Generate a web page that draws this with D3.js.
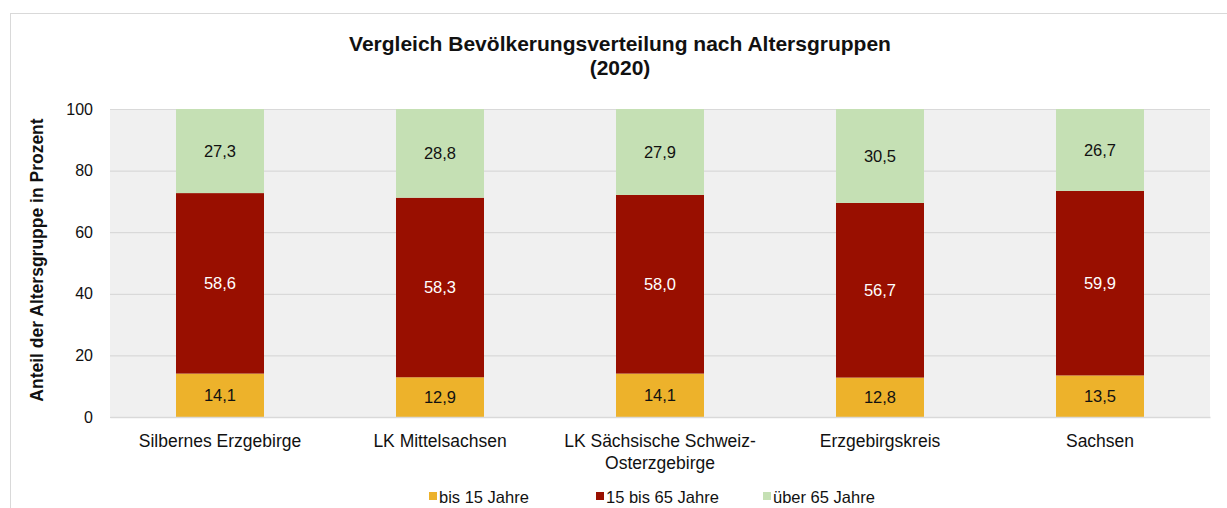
<!DOCTYPE html>
<html>
<head>
<meta charset="utf-8">
<script src="https://d3js.org/d3.v7.min.js"></script>
<style>
  body { margin: 0; background: #fff; }
  svg text { font-family: "Liberation Sans", Arial, sans-serif; }
</style>
</head>
<body>
<svg id="chart" width="1227" height="508"></svg>
<script>
// data
const regions = ["Silbernes Erzgebirge", "LK Mittelsachsen", "LK Sächsische Schweiz-Osterzgebirge", "Erzgebirgskreis", "Sachsen"];
const under15 = [14.1, 12.9, 14.1, 12.8, 13.5];
const age15to65 = [58.6, 58.3, 58.0, 56.7, 59.9];
const over65 = [27.3, 28.8, 27.9, 30.5, 26.7];
const seriesNames = ["bis 15 Jahre", "15 bis 65 Jahre", "über 65 Jahre"];
const colors = ["#edb22b", "#990f00", "#c5e0b4"];
const labelColors = ["#111", "#fff", "#111"];
const yTicks = [0, 20, 40, 60, 80, 100];

const svg = d3.select("#chart");
const margin = {top: 109, left: 110, right: 17, bottom: 91};
const W = 1227, H = 508;
const width = W - margin.left - margin.right,
      height = H - margin.top - margin.bottom;

// outer frame
svg.append("rect").attr("x", 10.5).attr("y", 13.5).attr("width", 1230).attr("height", 520)
  .attr("fill", "none").attr("stroke", "#d9d9d9");

// title
svg.append("text").attr("x", 620).attr("y", 51).attr("text-anchor", "middle")
  .attr("font-size", 21).attr("font-weight", "bold").attr("fill", "#111")
  .text("Vergleich Bevölkerungsverteilung nach Altersgruppen");
svg.append("text").attr("x", 620).attr("y", 75).attr("text-anchor", "middle")
  .attr("font-size", 21).attr("font-weight", "bold").attr("fill", "#111")
  .text("(2020)");

const g = svg.append("g").attr("transform", "translate(" + margin.left + "," + margin.top + ")");

g.append("rect").attr("width", width).attr("height", height).attr("fill", "#f0f0f0");

const x = d3.scaleBand().domain(regions).range([0, width]).paddingInner(0.6).paddingOuter(0.3);
const y = d3.scaleLinear().domain([0, 100]).range([height, 0]);

// grid
g.selectAll(".grid").data(yTicks).enter().append("line")
  .attr("x1", 0).attr("x2", width)
  .attr("y1", d => y(d) + 0.5).attr("y2", d => y(d) + 0.5)
  .attr("stroke", "#d9d9d9").attr("stroke-width", 1.2);

// y axis
const yAxis = g.append("g").call(d3.axisLeft(y).tickValues(yTicks).tickSize(0).tickPadding(17));
yAxis.select(".domain").remove();
yAxis.selectAll("text").attr("font-size", 16).attr("fill", "#111")
  .style("font-family", "Liberation Sans, Arial, sans-serif");

svg.append("text")
  .attr("transform", "translate(43," + (margin.top + height / 2 - 3) + ") rotate(-90)")
  .attr("text-anchor", "middle").attr("font-size", 17.5).attr("font-weight", "bold").attr("fill", "#111")
  .text("Anteil der Altersgruppe in Prozent");

// stacked bars
const rows = regions.map((r, i) => ({region: r, s0: under15[i], s1: age15to65[i], s2: over65[i]}));
const stack = d3.stack().keys(["s0", "s1", "s2"])(rows);

stack.forEach((layer, k) => {
  const lg = g.append("g");
  lg.selectAll("rect").data(layer).enter().append("rect")
    .attr("x", d => x(d.data.region))
    .attr("width", x.bandwidth())
    .attr("y", d => y(Math.min(d[1], 100)))
    .attr("height", d => y(d[0]) - y(Math.min(d[1], 100)))
    .attr("fill", colors[k]);
  lg.selectAll("text").data(layer).enter().append("text")
    .attr("x", d => x(d.data.region) + x.bandwidth() / 2)
    .attr("y", d => (y(d[0]) + y(Math.min(d[1], 100))) / 2 + 6)
    .attr("text-anchor", "middle").attr("font-size", 16.5).attr("fill", labelColors[k])
    .text(d => d3.format(".1f")(d[1] - d[0]).replace(".", ","));
});

// x axis
const xAxis = g.append("g").attr("transform", "translate(0," + height + ")")
  .call(d3.axisBottom(x).tickSize(0).tickPadding(0));
xAxis.select(".domain").attr("stroke", "#d9d9d9").attr("stroke-width", 1.5);
xAxis.selectAll("text").text(null).each(function(d) {
  const t = d3.select(this).attr("font-size", 17.5).attr("fill", "#111")
    .style("font-family", "Liberation Sans, Arial, sans-serif").attr("dy", null).attr("y", 30);
  const parts = d === "LK Sächsische Schweiz-Osterzgebirge" ? ["LK Sächsische Schweiz-", "Osterzgebirge"] : [d];
  parts.forEach((p, i) => t.append("tspan").attr("x", 0).attr("dy", i === 0 ? 0 : 22).text(p));
});

// legend
const legendX = [429, 596, 763];
const lgd = svg.append("g");
seriesNames.forEach((n, i) => {
  lgd.append("rect").attr("x", legendX[i]).attr("y", 492).attr("width", 8).attr("height", 8).attr("fill", colors[i]);
  lgd.append("text").attr("x", legendX[i] + 10).attr("y", 503).attr("font-size", 16.5).attr("fill", "#111").text(n);
});
</script>
</body>
</html>
